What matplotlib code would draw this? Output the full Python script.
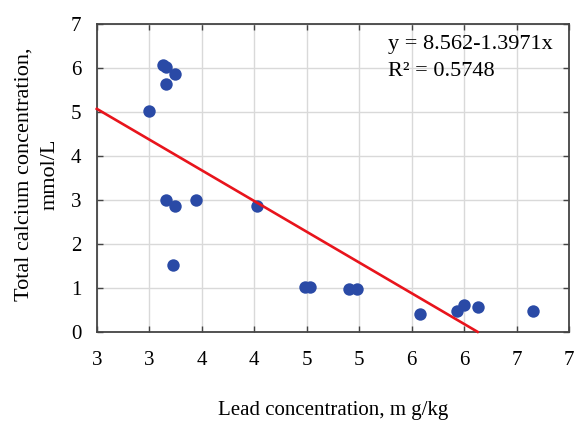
import matplotlib.pyplot as plt
import numpy as np

plt.rcParams["font.family"] = ["Liberation Serif", "DejaVu Serif"]

# lead concentration (mg/kg) and total calcium concentration (mmol/L)
lead = [3.13, 3.16, 3.25, 3.16, 3.00, 3.16, 3.25, 3.45, 4.03, 3.23,
        4.48, 4.53, 4.90, 4.98, 5.58, 5.93, 6.00, 6.13, 6.66]
calcium = [6.07, 6.01, 5.86, 5.64, 5.01, 2.99, 2.85, 3.00, 2.85, 1.52,
           1.03, 1.03, 0.97, 0.97, 0.41, 0.48, 0.61, 0.56, 0.48]

intercept = 8.562
slope = -1.3971

x_ticks = [2.5, 3.0, 3.5, 4.0, 4.5, 5.0, 5.5, 6.0, 6.5, 7.0]
x_tick_labels = ["3", "3", "4", "4", "5", "5", "6", "6", "7", "7"]
y_ticks = [0, 1, 2, 3, 4, 5, 6, 7]

fig = plt.figure(figsize=(5.76, 4.26), dpi=100)
ax = fig.add_axes([0.168, 0.221, 0.82, 0.723])

ax.scatter(lead, calcium, s=80, color="#2a4aa6", zorder=3, linewidths=0)

x_end = -intercept / slope
xl = np.array([2.5, x_end])
ax.plot(xl, intercept + slope * xl, color="#e8141c", lw=1.9, zorder=4, clip_on=False)

ax.set_xlim(2.5, 7.0)
ax.set_ylim(0, 7)
ax.set_xticks(x_ticks)
ax.set_xticklabels(x_tick_labels)
ax.set_yticks(y_ticks)
ax.grid(True, color="#d9d9d9", lw=1.0)
ax.set_axisbelow(True)
ax.tick_params(direction="in", top=True, right=True, length=4, width=1,
               color="#444444", labelsize=15)
ax.tick_params(axis="x", pad=14)
ax.tick_params(axis="y", pad=11)
for sp in ax.spines.values():
    sp.set_color("#444444")
    sp.set_linewidth(1.3)

ax.text(0.617, 0.932, "y = 8.562-1.3971x", transform=ax.transAxes, fontsize=16,
        va="center", ha="left")
ax.text(0.617, 0.844, "R² = 0.5748", transform=ax.transAxes, fontsize=16,
        va="center", ha="left")

fig.text(0.578, 0.037, "Lead concentration, m g/kg", ha="center", va="center",
         fontsize=15)
fig.text(0.064, 0.59, "Total calcium concentration,\nmmol/L", rotation=90,
         ha="center", va="center", multialignment="center", fontsize=16,
         linespacing=1.5)

fig.savefig("out.png", dpi=100)
